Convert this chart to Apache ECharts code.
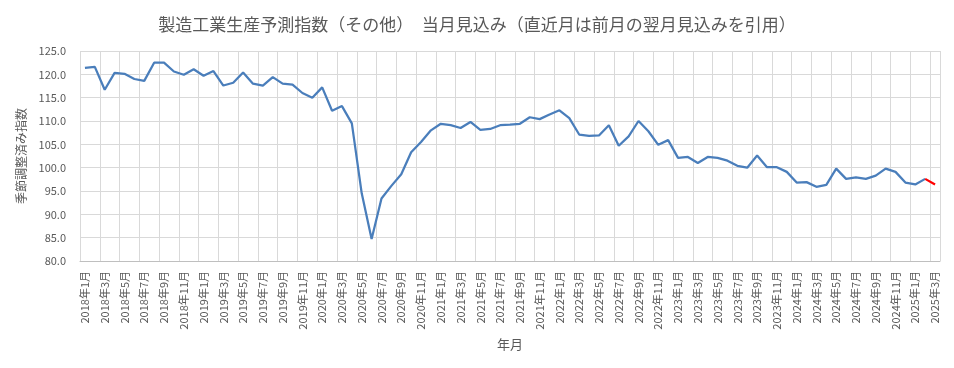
<!DOCTYPE html>
<html><head><meta charset="utf-8">
<script src="https://cdn.jsdelivr.net/npm/echarts@6/dist/echarts.min.js"></script>
<style>html,body{margin:0;padding:0;background:#fff}#c{width:954px;height:368px}</style>
</head><body><div id="c"></div>
<script>
const titleText = '製造工業生産予測指数（その他）　当月見込み（直近月は前月の翌月見込みを引用）';
const startYear = 2018, monthsCount = 87;
const categories = [];
for (let i = 0; i < monthsCount; i++) {
  const y = startYear + Math.floor(i / 12), m = i % 12 + 1;
  categories.push(y + '年' + m + '月');
}
const values = [
  121.4,121.6,116.7,120.3,120.1,119.0,118.6,122.5,122.5,120.6,119.9,121.1,
  119.7,120.7,117.6,118.2,120.4,118.0,117.6,119.4,118.0,117.8,116.0,115.0,
  117.2,112.2,113.2,109.5,94.5,84.7,93.4,96.1,98.6,103.3,105.5,108.0,
  109.4,109.1,108.5,109.8,108.1,108.3,109.1,109.2,109.4,110.8,110.4,111.4,
  112.3,110.6,107.1,106.8,106.9,109.1,104.7,106.7,110.0,107.8,104.9,105.9,
  102.1,102.3,101.0,102.3,102.1,101.5,100.4,100.0,102.6,100.1,100.1,99.1,
  96.8,96.9,95.9,96.3,99.8,97.6,97.9,97.6,98.3,99.8,99.1,96.8,
  96.4,97.6,96.4
];
const yTicks = { min: 80, max: 125, interval: 5 };
const latestCount = 2; // last segment drawn in red

const blueData = values.map((v, i) => i < values.length - latestCount + 1 ? v : null);
const redData = values.map((v, i) => i >= values.length - latestCount ? v : null);

const chart = echarts.init(document.getElementById('c'), null, { renderer: 'canvas' });
const txt = '#595959';
const font = '"Noto Sans CJK JP", sans-serif';
chart.setOption({
  animation: false,
  backgroundColor: '#fff',
  textStyle: { fontFamily: font },
  title: {
    text: titleText, left: 'center', top: 11,
    textStyle: { fontSize: 17, fontWeight: 'normal', color: txt, fontFamily: font }
  },
  grid: { left: 80, right: 14, top: 51, bottom: 107, containLabel: false },
  xAxis: {
    type: 'category', data: categories, boundaryGap: true,
    name: '年月', nameLocation: 'middle', nameGap: 73,
    nameTextStyle: { fontSize: 13, color: txt, fontFamily: font },
    axisLine: { lineStyle: { color: '#bfbfbf', width: 1 } },
    axisTick: { show: false, interval: 1 },
    axisLabel: { interval: 1, rotate: 90, fontSize: 11, color: txt, margin: 10, fontFamily: font },
    splitLine: { show: true, interval: 1, lineStyle: { color: '#d9d9d9', width: 1 } }
  },
  yAxis: {
    type: 'value', min: yTicks.min, max: yTicks.max, interval: yTicks.interval,
    name: '季節調整済み指数', nameLocation: 'middle', nameGap: 44, nameRotate: 90,
    nameTextStyle: { fontSize: 12, color: txt, fontFamily: font },
    axisLine: { show: false }, axisTick: { show: false },
    axisLabel: { fontSize: 11, color: txt, margin: 14, formatter: v => v.toFixed(1), fontFamily: font },
    splitLine: { show: true, lineStyle: { color: '#d9d9d9', width: 1 } }
  },
  series: [
    { type: 'line', data: blueData, symbol: 'none', connectNulls: false,
      lineStyle: { color: '#4a7ebb', width: 2.25 }, itemStyle: { color: '#4a7ebb' }, z: 2 },
    { type: 'line', data: redData, symbol: 'none', connectNulls: false,
      lineStyle: { color: '#ff0000', width: 2.25 }, itemStyle: { color: '#ff0000' }, z: 3 }
  ]
});
</script></body></html>
